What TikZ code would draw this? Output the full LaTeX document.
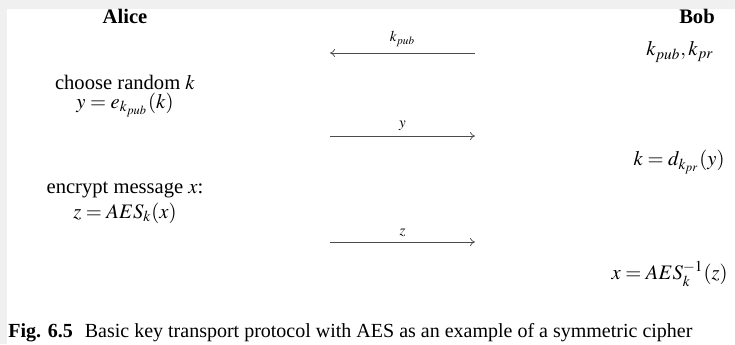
\documentclass[tikz,border=0pt]{standalone}
\usepackage{mathptmx}
\usepackage{fontspec}
\setmainfont{Liberation Serif}
\usetikzlibrary{arrows.meta}
\begin{document}
\begin{tikzpicture}[x=0.5pt,y=-0.5pt,
  lbl/.style={inner sep=0pt,font=\fontsize{10.3}{12}\selectfont},
  small/.style={inner sep=0pt,font=\fontsize{7.5}{9}\selectfont},
  msg/.style={draw=black!70,line width=0.35pt,-{To[length=2.5pt,width=4pt]}},
  who/.style={lbl,font=\fontsize{10.3}{12}\selectfont\bfseries}]
\useasboundingbox (0,0) rectangle (735,344);
\fill[black!6] (0,0) rectangle (735,344);
\fill[white] (7,9) rectangle (735,344);
\node[who] (alice) at (125,16) {Alice};
\node[who] (bob) at (697,16) {Bob};
\node[lbl] (bobkeys) at (680,52) {$k_{pub},k_{pr}$};
\node[lbl] (choose) at (125,82) {choose random $k$};
\node[lbl] (ey) at (125,105) {$y=e_{k_{pub}}(k)$};
\node[lbl,anchor=east] (dk) at (725,162) {$k=d_{k_{pr}}(y)$};
\node[lbl] (enc) at (125,190) {encrypt message $x$:};
\node[lbl] (ez) at (125,213) {$z=AES_k(x)$};
\node[lbl,anchor=east] (dx) at (728,274) {$x=AES_k^{-1}(z)$};
\coordinate (a1l) at (330,53); \coordinate (a1r) at (475,53);
\coordinate (a2l) at (330,136); \coordinate (a2r) at (475,136);
\coordinate (a3l) at (330,242); \coordinate (a3r) at (475,242);
\draw[msg] (a1r) -- node[small,above=3pt] (lk) {$k_{pub}$} (a1l);
\draw[msg] (a2l) -- node[small,above=2.5pt] (ly) {$y$} (a2r);
\draw[msg] (a3l) -- node[small,above=2.5pt] (lz) {$z$} (a3r);
\node[anchor=west,inner sep=0pt,font=\fontsize{10}{12}\selectfont] (cap) at (8,333) {\textbf{Fig. 6.5}\hspace{0.6em}Basic key transport protocol with AES as an example of a symmetric cipher};
\end{tikzpicture}
\end{document}
